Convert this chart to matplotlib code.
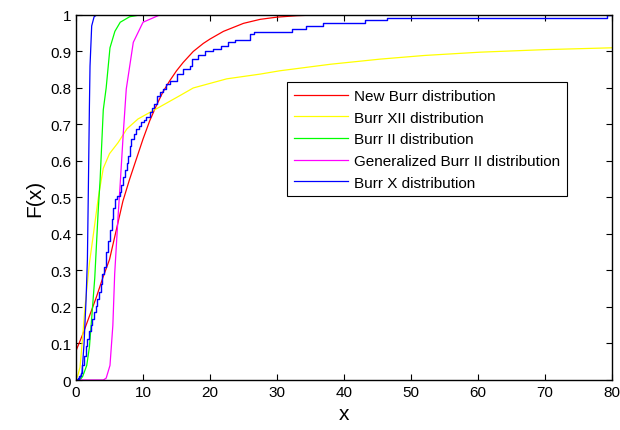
import matplotlib
matplotlib.use("Agg")
import matplotlib.pyplot as plt

plt.rcParams['font.family'] = ['Liberation Sans', 'DejaVu Sans']

# New Burr distribution (red)
nb_x = [0, 1, 2, 3, 4, 5, 6, 7, 8, 9, 10, 11, 12, 13, 14, 15, 16, 17.5, 19, 20, 22, 25,
        27.5, 30, 33, 36, 80]
nb_y = [0.08, 0.125, 0.175, 0.225, 0.28, 0.33, 0.41, 0.49, 0.55, 0.605, 0.66, 0.71, 0.752,
        0.79, 0.82, 0.847, 0.87, 0.90, 0.922, 0.934, 0.955, 0.977, 0.988, 0.994, 0.998, 1.0, 1.0]

# Burr XII distribution (yellow)
b12_x = [0, 0.3, 0.6, 1.0, 1.34, 2.0, 2.6, 3.3, 3.6, 4.07, 5, 6.27, 7.6, 9.25, 12.2, 15.5,
         17.5, 22.5, 27.5, 30.4, 38, 45.4, 52, 60.3, 70, 80]
b12_y = [0, 0.015, 0.035, 0.12, 0.2, 0.32, 0.40, 0.496, 0.53, 0.58, 0.62, 0.65, 0.688, 0.715,
         0.745, 0.779, 0.80, 0.825, 0.838, 0.847, 0.865, 0.879, 0.889, 0.898, 0.905, 0.91]

# Burr II distribution (green)
b2_x = [0, 0.6, 1.0, 1.6, 2.0, 2.3, 2.8, 3.3, 3.6, 4.07, 4.5, 5.07, 5.8, 6.6, 8, 9.55, 80]
b2_y = [0, 0.0, 0.01, 0.04, 0.09, 0.16, 0.28, 0.46, 0.55, 0.74, 0.80, 0.91, 0.955, 0.98,
        0.995, 1.0, 1.0]

# Generalized Burr II distribution (magenta)
gb2_x = [0, 4.07, 4.5, 5.07, 5.5, 5.77, 6.3, 6.57, 7.07, 7.5, 8.55, 10, 12.5, 80]
gb2_y = [0, 0, 0.005, 0.04, 0.15, 0.29, 0.455, 0.53, 0.68, 0.797, 0.925, 0.98, 1.0, 1.0]

# Burr X distribution (blue)
bx_x = [0, 0.5, 0.9, 1.2, 1.5, 1.7, 1.84, 2.0, 2.09, 2.34, 2.7, 3.1, 80]
bx_y = [0, 0, 0.02, 0.1, 0.22, 0.33, 0.52, 0.75, 0.86, 0.97, 0.995, 1.0, 1.0]

# Empirical CDF (blue steps)
ecdf_x = [0, 0.3, 0.5, 0.7, 0.95, 1.2, 1.45, 1.7, 1.94, 2.2, 2.4, 2.7, 2.94, 3.2, 3.43, 3.7,
          3.93, 4.2, 4.5, 4.8, 5.05, 5.3, 5.55, 5.8, 6.1, 6.5, 6.75, 7.0, 7.3, 7.55, 7.76, 8.0,
          8.26, 8.6, 9.0, 9.4, 9.75, 10.1, 10.5, 11.0, 11.35, 11.7, 12.04, 12.5, 13.0, 13.5,
          14.0, 15.0, 16.0, 17.0, 17.3, 18.25, 19.25, 20.5, 21.7, 22.7, 23.7, 26.0, 26.5, 32.2,
          34.4, 36.9, 43.1, 46.4, 79.2, 80]
ecdf_y = [0, 0.005, 0.012, 0.02, 0.04, 0.067, 0.094, 0.112, 0.135, 0.15, 0.167, 0.185, 0.204,
          0.222, 0.24, 0.262, 0.29, 0.31, 0.35, 0.38, 0.41, 0.44, 0.47, 0.496, 0.505, 0.514,
          0.535, 0.556, 0.575, 0.595, 0.614, 0.64, 0.66, 0.675, 0.688, 0.697, 0.706, 0.713,
          0.72, 0.733, 0.745, 0.756, 0.779, 0.788, 0.797, 0.811, 0.82, 0.838, 0.852, 0.861,
          0.879, 0.889, 0.902, 0.907, 0.916, 0.925, 0.932, 0.948, 0.954, 0.962, 0.969, 0.978,
          0.986, 0.993, 1.0, 1.0]

labels = ["New Burr distribution", "Burr XII distribution", "Burr II distribution",
          "Generalized Burr II distribution", "Burr X distribution"]
colors = ["#ff0000", "#ffff00", "#00ff00", "#ff00ff", "#0000ff"]

x_ticks = [0, 10, 20, 30, 40, 50, 60, 70, 80]
y_ticks = [0, 0.1, 0.2, 0.3, 0.4, 0.5, 0.6, 0.7, 0.8, 0.9, 1]
y_ticklabels = ["0", "0.1", "0.2", "0.3", "0.4", "0.5", "0.6", "0.7", "0.8", "0.9", "1"]

fig = plt.figure(figsize=(6.2, 4.31), dpi=100)
ax = fig.add_axes([0.1226, 0.116, 0.8645, 0.847])

series = [(nb_x, nb_y), (b12_x, b12_y), (b2_x, b2_y), (gb2_x, gb2_y), (bx_x, bx_y)]
for (xs, ys), c, lab in zip(series, colors, labels):
    ax.plot(xs, ys, color=c, lw=0.9, label=lab)
ax.plot(ecdf_x, ecdf_y, color="#0000ff", lw=1.0, drawstyle="steps-post")

ax.set_xlim(0, 80)
ax.set_ylim(0, 1)
ax.set_xticks(x_ticks)
ax.set_yticks(y_ticks)
ax.set_yticklabels(y_ticklabels)
ax.tick_params(direction="in", top=True, right=True, labelsize=11, length=4)
for s in ax.spines.values():
    s.set_linewidth(1.0)
ax.set_xlabel("x", fontsize=15)
ax.set_ylabel("F(x)", fontsize=15)

leg = ax.legend(loc="upper left", bbox_to_anchor=(0.394, 0.816), fontsize=11,
                fancybox=False, framealpha=1, edgecolor="black", borderpad=0.45,
                handlelength=3.5, handletextpad=0.45, labelspacing=0.5, borderaxespad=0)
leg.get_frame().set_linewidth(0.8)

fig.savefig("out.png", dpi=100)
